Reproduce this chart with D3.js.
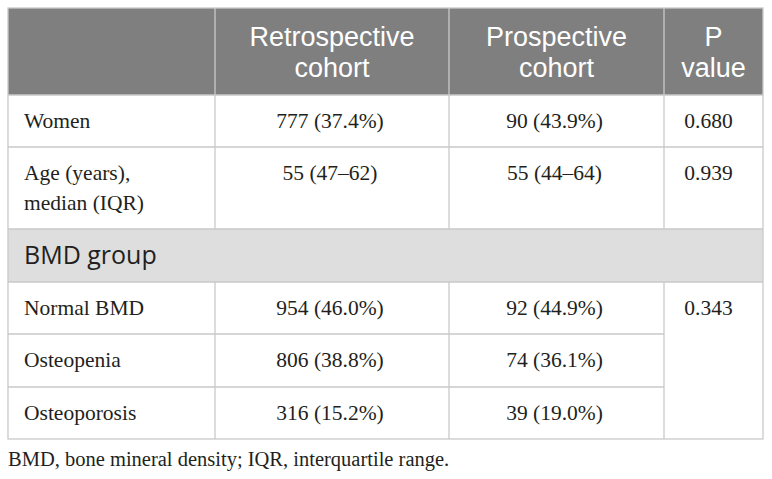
<!DOCTYPE html>
<html><head><meta charset="utf-8">
<script src="https://cdn.jsdelivr.net/npm/d3@7"></script>
<style>html,body{margin:0;padding:0;background:#fff;}svg{display:block;}</style>
</head><body>
<div id="chart"></div>
<script>
// ---- data ----
const headers = [[""], ["Retrospective", "cohort"], ["Prospective", "cohort"], ["P", "value"]];
const rowLabels = [["Women"], ["Age (years),", "median (IQR)"], ["BMD group"], ["Normal BMD"], ["Osteopenia"], ["Osteoporosis"]];
const rowTypes = ["data", "data", "section", "data", "data", "data"];
const retrospective = ["777 (37.4%)", "55 (47\u201362)", "", "954 (46.0%)", "806 (38.8%)", "316 (15.2%)"];
const prospective = ["90 (43.9%)", "55 (44\u201364)", "", "92 (44.9%)", "74 (36.1%)", "39 (19.0%)"];
const pValues = ["0.680", "0.939", "", "0.343", null, null];
const footnote = "BMD, bone mineral density; IQR, interquartile range.";

// ---- layout ----
const W = 772, H = 479;
const colEdges = [8, 215, 449, 664, 763];
const rowEdges = [8, 95, 147, 229, 282, 334, 387, 439];
const headerFill = "#7f7f7f", sectionFill = "#dedede", border = "#c9c9c9";
const serif = "'Liberation Serif', 'Times New Roman', serif";
const sans = "'Open Sans', 'Noto Sans', sans-serif";
const headSans = "'Liberation Sans', Arial, sans-serif";
const bodySize = 21.5, headSize = 27, sectionSize = 25, lineGap = 30;

const svg = d3.select("#chart").append("svg").attr("width", W).attr("height", H);

const colCenter = i => (colEdges[i] + colEdges[i + 1]) / 2;
const tableL = colEdges[0], tableR = colEdges[colEdges.length - 1];

// header background
svg.append("rect").attr("x", tableL).attr("y", rowEdges[0])
  .attr("width", tableR - tableL).attr("height", rowEdges[1] - rowEdges[0]).attr("fill", headerFill);

// section row background
rowTypes.forEach((t, i) => {
  if (t === "section") {
    svg.append("rect").attr("x", tableL).attr("y", rowEdges[i + 1])
      .attr("width", tableR - tableL).attr("height", rowEdges[i + 2] - rowEdges[i + 1]).attr("fill", sectionFill);
  }
});

const lines = svg.append("g").attr("stroke", border).attr("stroke-width", 1.3).attr("fill", "none");
lines.append("rect").attr("x", tableL).attr("y", rowEdges[0])
  .attr("width", tableR - tableL).attr("height", rowEdges[rowEdges.length - 1] - rowEdges[0]);
rowEdges.slice(1, -1).forEach((y, k) => {
  let x2 = tableR;
  if (k >= 4 && k <= 5) x2 = colEdges[3]; // inside spanned p-value cell
  lines.append("line").attr("x1", tableL).attr("x2", x2).attr("y1", y).attr("y2", y);
});
colEdges.slice(1, -1).forEach(x => {
  lines.append("line").attr("x1", x).attr("x2", x).attr("y1", rowEdges[0]).attr("y2", rowEdges[1]);
  rowTypes.forEach((t, i) => {
    if (t !== "section") {
      lines.append("line").attr("x1", x).attr("x2", x).attr("y1", rowEdges[i + 1]).attr("y2", rowEdges[i + 2]);
    }
  });
});

function multi(x, y, arr, gap, attrs) {
  const t = svg.append("text").attr("x", x).attr("y", y);
  Object.entries(attrs).forEach(([k, v]) => t.attr(k, v));
  arr.forEach((ln, j) => {
    t.append("tspan").attr("x", x).attr("y", y + j * gap).text(ln);
  });
  return t;
}

// header text
headers.forEach((h, c) => {
  if (!h[0]) return;
  multi(colCenter(c), 45.5, h, 31, {"text-anchor": "middle", "font-family": headSans,
    "font-size": headSize, "fill": "#ffffff"});
});

// body text
const baseOff = 33;
rowLabels.forEach((lab, i) => {
  const top = rowEdges[i + 1];
  const by = top + baseOff;
  if (rowTypes[i] === "section") {
    svg.append("text").attr("x", 24).attr("y", by + 1.5).attr("font-family", sans)
      .attr("font-size", sectionSize).attr("fill", "#231f20").text(lab[0]);
    return;
  }
  multi(24, by, lab, lineGap, {"font-family": serif, "font-size": bodySize, "fill": "#231f20"});
  [retrospective[i], prospective[i]].forEach((v, k) => {
    svg.append("text").attr("x", colCenter(k + 1) - 2).attr("y", by).attr("text-anchor", "middle")
      .attr("font-family", serif).attr("font-size", bodySize).attr("fill", "#231f20").text(v);
  });
  if (pValues[i]) {
    svg.append("text").attr("x", colCenter(3) - 5).attr("y", by).attr("text-anchor", "middle")
      .attr("font-family", serif).attr("font-size", bodySize).attr("fill", "#231f20").text(pValues[i]);
  }
});

// footnote
svg.append("text").attr("x", 8).attr("y", 466).attr("font-family", serif)
  .attr("font-size", 20.5).attr("fill", "#231f20").text(footnote);
</script>
</body></html>
